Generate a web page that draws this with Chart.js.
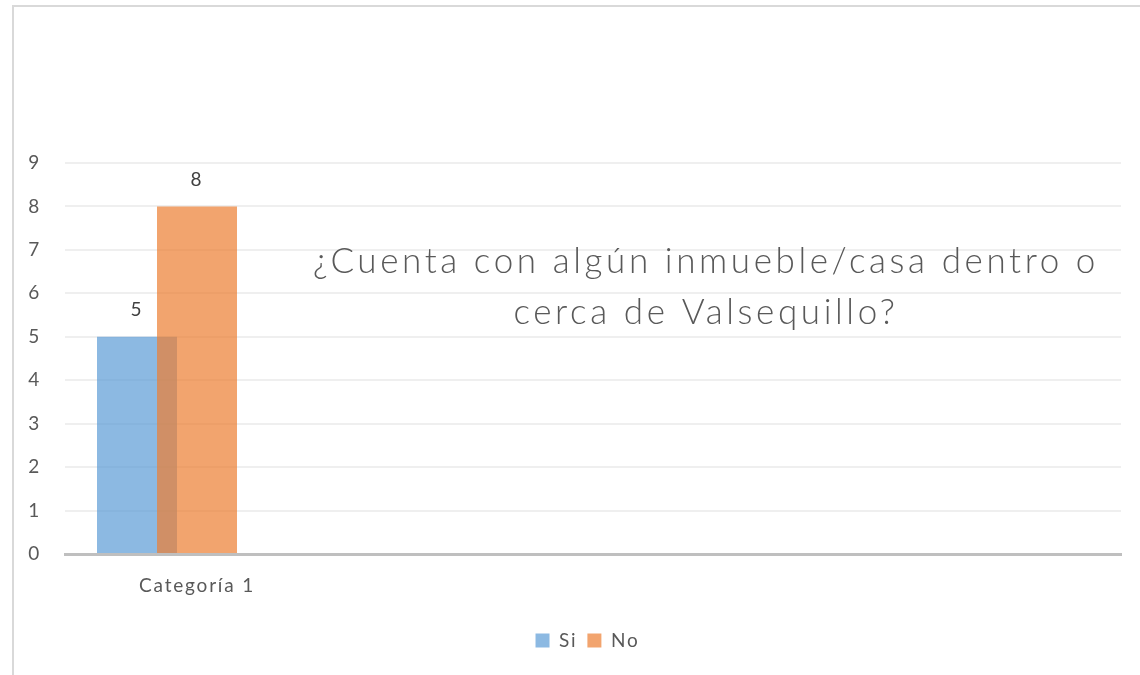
<!DOCTYPE html>
<html lang="es">
<head>
    <meta charset="UTF-8">
    <meta name="viewport" content="width=device-width, initial-scale=1.0">
    <title>¿Cuenta con algún inmueble/casa dentro o cerca de Valsequillo?</title>
    <script src="https://cdn.jsdelivr.net/npm/chart.js@4.4.0/dist/chart.umd.min.js"></script>
    <style>
        html, body {
            margin: 0;
            padding: 0;
            background: #ffffff;
            overflow: hidden;
        }
        /* marco gris del grafico (solo se ven el borde izquierdo y el superior) */
        .marco {
            position: absolute;
            left: 12px;
            top: 5px;
            width: 1200px;
            height: 720px;
            border-left: 2px solid #d9d9d9;
            border-top: 2px solid #d9d9d9;
        }
        #grafica {
            position: absolute;
            left: 0;
            top: 0;
        }
    </style>
</head>
<body>
    <div class="marco"></div>
    <canvas id="grafica" width="1140" height="675"></canvas>

    <script>
        // Datos
        const categorias = ['Categoría 1', '', '', ''];
        const valoresSi = [5, null, null, null];
        const valoresNo = [8, null, null, null];
        const serieVacia = [null, null, null, null]; // tercera serie sin valores, reserva su hueco como en Excel
        const tituloLineas = ['¿Cuenta con algún inmueble/casa dentro o', 'cerca de Valsequillo?'];

        const colorTexto = '#595959';
        const fuente = 'Lato, "Open Sans", sans-serif';

        // espaciado entre letras para parecerse al texto de Excel
        const espaciado = {
            id: 'espaciado',
            beforeLayout(chart) { chart.ctx.letterSpacing = '1.8px'; },
            afterLayout(chart) {
                // la leyenda de Excel queda centrada en el marco, algo a la derecha
                chart.legend.left += 27;
                chart.legend.right += 27;
            },
            beforeDraw(chart) { chart.ctx.letterSpacing = '1.8px'; }
        };

        // la serie "No" se pinta encima de "Si" (zona solapada marron)
        const naranjaEncima = {
            id: 'naranjaEncima',
            beforeDatasetDraw(chart, args) {
                if (args.index === 1) return false;
            },
            afterDatasetsDraw(chart) {
                const ctx = chart.ctx;
                chart.getDatasetMeta(1).controller.draw();

                // etiquetas de valor encima de las barras
                ctx.save();
                ctx.font = '19px ' + fuente;
                ctx.fillStyle = '#404040';
                ctx.textAlign = 'center';
                ctx.textBaseline = 'middle';
                [0, 1].forEach(function(i) {
                    const meta = chart.getDatasetMeta(i);
                    const datos = chart.data.datasets[i].data;
                    meta.data.forEach(function(barra, j) {
                        if (datos[j] === null) return;
                        ctx.fillText(String(datos[j]), barra.x, barra.y - 27);
                    });
                });
                ctx.restore();
            }
        };

        // titulo dentro del area del grafico
        const tituloInterior = {
            id: 'tituloInterior',
            afterDraw(chart) {
                const ctx = chart.ctx;
                ctx.save();
                ctx.font = '300 35px ' + fuente;
                ctx.letterSpacing = '3.6px';
                ctx.fillStyle = colorTexto;
                ctx.textAlign = 'center';
                ctx.textBaseline = 'alphabetic';
                ctx.fillText(tituloLineas[0], 706, 273);
                ctx.fillText(tituloLineas[1], 706, 324);
                ctx.restore();
            }
        };

        new Chart(document.getElementById('grafica').getContext('2d'), {
            type: 'bar',
            data: {
                labels: categorias,
                datasets: [
                    { label: 'Si', data: valoresSi, backgroundColor: 'rgba(91, 155, 213, 0.7)', borderWidth: 0 },
                    { label: 'No', data: valoresNo, backgroundColor: 'rgba(237, 125, 49, 0.7)', borderWidth: 0 },
                    { label: '', data: serieVacia, backgroundColor: 'rgba(0, 0, 0, 0)', borderWidth: 0 }
                ]
            },
            options: {
                responsive: false,
                animation: false,
                layout: {
                    padding: { top: 163, right: 19, bottom: 15, left: 0 }
                },
                datasets: {
                    bar: {
                        categoryPercentage: 180 / 264,
                        barPercentage: 80 / 60
                    }
                },
                plugins: {
                    legend: {
                        position: 'bottom',
                        labels: {
                            boxWidth: 14,
                            boxHeight: 14,
                            padding: 10,
                            color: colorTexto,
                            font: { family: fuente, size: 19 },
                            filter: function(item) { return item.text !== ''; }
                        }
                    },
                    tooltip: { enabled: false }
                },
                scales: {
                    x: {
                        grid: { display: false, drawTicks: false },
                        border: { display: true, color: '#bfbfbf', width: 3 },
                        ticks: {
                            autoSkip: false,
                            maxRotation: 0,
                            padding: 20,
                            color: colorTexto,
                            font: { family: fuente, size: 19 }
                        },
                        afterFit: function(scale) { scale.height = 67; }
                    },
                    y: {
                        min: 0,
                        max: 9,
                        grid: { color: '#efefef', lineWidth: 2, drawTicks: false },
                        border: { display: false },
                        ticks: {
                            stepSize: 1,
                            padding: 24,
                            color: colorTexto,
                            font: { family: fuente, size: 19 }
                        },
                        afterFit: function(scale) { scale.width = 65; }
                    }
                }
            },
            plugins: [espaciado, naranjaEncima, tituloInterior]
        });
    </script>
</body>
</html>
